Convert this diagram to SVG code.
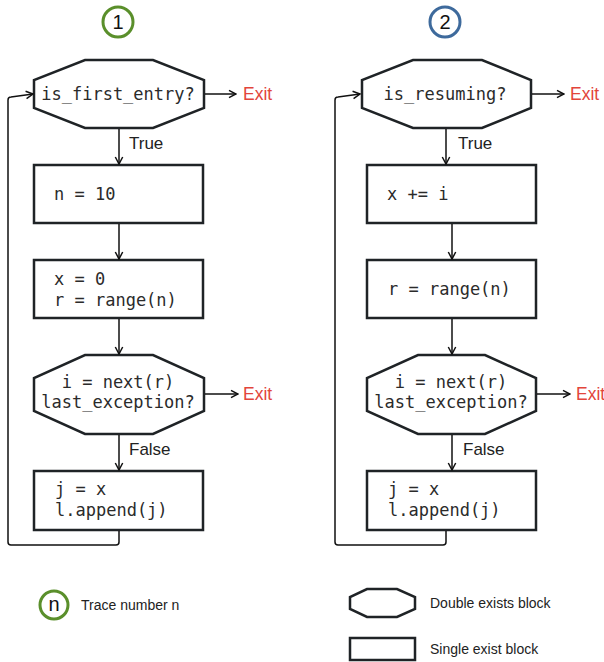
<svg xmlns="http://www.w3.org/2000/svg" width="604" height="662" viewBox="0 0 604 662">
  <style>
    .shape { fill: #ffffff; stroke: #1f2326; stroke-width: 2.5; stroke-linejoin: miter; }
    .code { font-family: "DejaVu Sans Mono", "Liberation Mono", monospace; font-size: 17px; fill: #2b2b2b; }
    .label { font-family: "Liberation Sans", Arial, sans-serif; font-size: 17px; fill: #222; }
    .exit { font-family: "Liberation Sans", Arial, sans-serif; font-size: 17.5px; fill: #e2453a; }
    .legend { font-family: "Liberation Sans", Arial, sans-serif; font-size: 14px; fill: #222; }
    .edge { fill: none; stroke: #111; stroke-width: 1.5; stroke-linejoin: round; }
    .num { font-family: "Liberation Sans", Arial, sans-serif; font-size: 20px; fill: #111; text-anchor: middle; }
  </style>
  <defs>
    <marker id="arrow" viewBox="0 0 10 10" refX="9" refY="5" markerWidth="10" markerHeight="10" markerUnits="userSpaceOnUse" orient="auto">
      <path d="M2,1.3 L9,5 L2,8.7" fill="none" stroke="#111" stroke-width="1.5"/>
    </marker>
  </defs>

  <rect width="604" height="662" fill="#ffffff"/>

  <!-- trace badges -->
  <g id="trace1">
    <circle cx="118" cy="22" r="15" fill="#fff" stroke="#5a8f2b" stroke-width="3"/>
    <text class="num" x="118" y="29">1</text>
  </g>
  <g id="trace2">
    <circle cx="445" cy="22" r="15" fill="#fff" stroke="#3e6a9c" stroke-width="3"/>
    <text class="num" x="445" y="29">2</text>
  </g>

  <!-- trace 1 blocks -->
  <g id="t1-entry">
    <polygon class="shape" points="85,60 153,60 204,80 204,108 153,128 85,128 34,108 34,80"/>
    <text class="code" x="118" y="100" text-anchor="middle">is_first_entry?</text>
  </g>
  <g id="t1-init-n">
    <rect class="shape" x="34" y="165" width="169" height="58"/>
    <text class="code" x="54" y="200">n = 10</text>
  </g>
  <g id="t1-init-xr">
    <rect class="shape" x="34" y="260" width="169" height="58"/>
    <text class="code" x="54" y="285">x = 0</text>
    <text class="code" x="54" y="306">r = range(n)</text>
  </g>
  <g id="t1-next">
    <polygon class="shape" points="85,355 153,355 204,378 204,411 153,434 85,434 34,411 34,378"/>
    <text class="code" x="118" y="388" text-anchor="middle">i = next(r)</text>
    <text class="code" x="118" y="408" text-anchor="middle">last_exception?</text>
  </g>
  <g id="t1-body">
    <rect class="shape" x="34" y="471" width="169" height="59"/>
    <text class="code" x="55" y="495">j = x</text>
    <text class="code" x="55" y="516">l.append(j)</text>
  </g>

  <!-- trace 2 blocks -->
  <g id="t2-entry">
    <polygon class="shape" points="413,60 482,60 531,80 531,108 482,128 413,128 362,108 362,80"/>
    <text class="code" x="445" y="100" text-anchor="middle">is_resuming?</text>
  </g>
  <g id="t2-incr">
    <rect class="shape" x="367" y="165" width="169" height="58"/>
    <text class="code" x="387" y="200">x += i</text>
  </g>
  <g id="t2-range">
    <rect class="shape" x="367" y="260" width="169" height="58"/>
    <text class="code" x="388" y="295">r = range(n)</text>
  </g>
  <g id="t2-next">
    <polygon class="shape" points="418,355 485,355 536,378 536,411 485,434 418,434 367,411 367,378"/>
    <text class="code" x="451" y="388" text-anchor="middle">i = next(r)</text>
    <text class="code" x="451" y="408" text-anchor="middle">last_exception?</text>
  </g>
  <g id="t2-body">
    <rect class="shape" x="367" y="471" width="169" height="59"/>
    <text class="code" x="388" y="495">j = x</text>
    <text class="code" x="388" y="516">l.append(j)</text>
  </g>

  <!-- connectors -->
  <g id="connectors">
    <!-- trace 1 -->
    <line class="edge" x1="119" y1="129" x2="119" y2="164" marker-end="url(#arrow)"/>
    <line class="edge" x1="119" y1="224" x2="119" y2="259" marker-end="url(#arrow)"/>
    <line class="edge" x1="119" y1="319" x2="119" y2="354" marker-end="url(#arrow)"/>
    <line class="edge" x1="119" y1="435" x2="119" y2="470" marker-end="url(#arrow)"/>
    <line class="edge" x1="205" y1="94" x2="236" y2="94" marker-end="url(#arrow)"/>
    <line class="edge" x1="205" y1="394" x2="238" y2="394" marker-end="url(#arrow)"/>
    <path class="edge" d="M119,531 V542 Q119,545 116,545 H11 Q8,545 8,542 V100 Q8,97 11,97 L33,94" marker-end="url(#arrow)"/>
    <!-- trace 2 -->
    <line class="edge" x1="446" y1="129" x2="446" y2="164" marker-end="url(#arrow)"/>
    <line class="edge" x1="452" y1="224" x2="452" y2="259" marker-end="url(#arrow)"/>
    <line class="edge" x1="452" y1="319" x2="452" y2="354" marker-end="url(#arrow)"/>
    <line class="edge" x1="452" y1="435" x2="452" y2="470" marker-end="url(#arrow)"/>
    <line class="edge" x1="532" y1="94" x2="564" y2="94" marker-end="url(#arrow)"/>
    <line class="edge" x1="537" y1="394" x2="570" y2="394" marker-end="url(#arrow)"/>
    <path class="edge" d="M446,531 V542 Q446,545 443,545 H338 Q335,545 335,542 V100 Q335,97 338,97 L360,94" marker-end="url(#arrow)"/>

    <!-- edge labels -->
    <text class="label" x="129" y="149">True</text>
    <text class="label" x="129" y="455">False</text>
    <text class="label" x="458" y="149">True</text>
    <text class="label" x="463" y="455">False</text>
    <text class="exit" x="243" y="100">Exit</text>
    <text class="exit" x="243" y="400">Exit</text>
    <text class="exit" x="570" y="100">Exit</text>
    <text class="exit" x="576" y="400">Exit</text>
  </g>

  <!-- legend -->
  <g id="legend-trace">
    <circle cx="54" cy="605" r="14" fill="#fff" stroke="#5a8f2b" stroke-width="3"/>
    <text class="num" x="54" y="611" font-size="18">n</text>
    <text class="legend" x="81" y="610">Trace number n</text>
  </g>
  <g id="legend-double">
    <polygon class="shape" points="367,589 397,589 415,597 415,609 397,617 367,617 350,609 350,597" stroke-width="2"/>
    <text class="legend" x="430" y="608">Double exists block</text>
  </g>
  <g id="legend-single">
    <rect class="shape" x="350" y="638" width="65" height="22" stroke-width="2"/>
    <text class="legend" x="430" y="654">Single exist block</text>
  </g>
</svg>
